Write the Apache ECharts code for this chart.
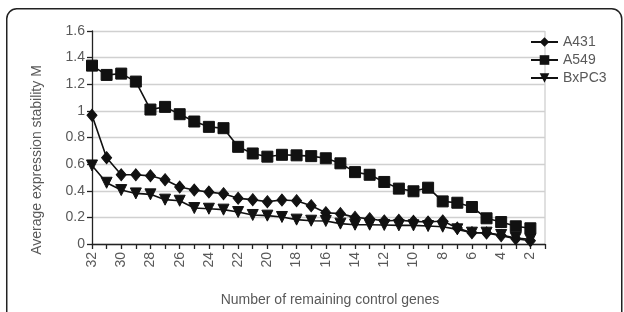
<!DOCTYPE html>
<html>
<head>
<meta charset="utf-8">
<script src="https://cdn.jsdelivr.net/npm/echarts@6/dist/echarts.min.js"></script>
<style>
  html, body { margin: 0; padding: 0; background: #fff; overflow: hidden; }
  #chart { width: 624px; height: 312px; }
</style>
</head>
<body>
<div id="chart"></div>
<script>
// number of remaining control genes (last slot is the empty end tick)
const genes = ['32','31','30','29','28','27','26','25','24','23','22','21','20','19','18','17',
  '16','15','14','13','12','11','10','9','8','7','6','5','4','3','2',''];

const a431 = [0.967, 0.648, 0.52, 0.52, 0.512, 0.483, 0.428, 0.405, 0.39, 0.378, 0.343, 0.333,
  0.318, 0.33, 0.325, 0.288, 0.235, 0.228, 0.2, 0.19, 0.173, 0.178, 0.17, 0.165, 0.173,
  0.12, 0.085, 0.083, 0.063, 0.04, 0.025, '-'];

const a549 = [1.34, 1.27, 1.28, 1.22, 1.01, 1.03, 0.975, 0.92, 0.88, 0.87, 0.73, 0.68,
  0.656, 0.67, 0.666, 0.66, 0.644, 0.606, 0.54, 0.52, 0.466, 0.416, 0.396, 0.423, 0.32,
  0.31, 0.278, 0.193, 0.165, 0.133, 0.118, '-'];

const bxpc3 = [0.59, 0.46, 0.405, 0.38, 0.373, 0.333, 0.325, 0.27, 0.265, 0.258, 0.24, 0.218,
  0.213, 0.203, 0.183, 0.175, 0.173, 0.153, 0.145, 0.145, 0.143, 0.14, 0.14, 0.135, 0.13,
  0.11, 0.085, 0.085, 0.068, 0.045, 0.035, '-'];

const yTicks = { min: 0, max: 1.6, step: 0.2 };

const grey = '#595959';
const font = 'Liberation Sans, Arial, sans-serif';

const lineSeries = (name, data, symbol, size, rotate) => ({
  name,
  type: 'line',
  data,
  symbol,
  symbolSize: size,
  symbolRotate: rotate || 0,
  showAllSymbol: true,
  lineStyle: { color: '#111', width: 1.6 },
  itemStyle: { color: '#111', borderColor: '#111' },
  emphasis: { disabled: true }
});

const chart = echarts.init(document.getElementById('chart'));
chart.setOption({
  animation: false,
  textStyle: { fontFamily: font },
  grid: { left: 92, right: 79, top: 31, bottom: 68 },
  legend: {
    orient: 'vertical',
    left: 530,
    top: 35,
    padding: 0,
    itemWidth: 27,
    itemHeight: 12,
    itemGap: 4,
    textStyle: { color: grey, fontSize: 14, fontFamily: font },
    data: ['A431', 'A549', 'BxPC3']
  },
  xAxis: {
    type: 'category',
    data: genes,
    boundaryGap: false,
    axisLine: { lineStyle: { color: '#222', width: 1.3 } },
    axisTick: { show: true, interval: 0, length: 5, lineStyle: { color: '#222', width: 1.3 } },
    axisLabel: { interval: 1, rotate: 90, color: grey, fontSize: 14, margin: 8 },
    splitLine: { show: false }
  },
  yAxis: {
    type: 'value',
    min: yTicks.min,
    max: yTicks.max,
    interval: yTicks.step,
    axisLine: { show: true, lineStyle: { color: '#222', width: 1.3 } },
    axisTick: { show: true, length: 5, lineStyle: { color: '#222', width: 1.3 } },
    axisLabel: {
      color: grey,
      fontSize: 14,
      margin: 7,
      formatter: v => (Math.round(v * 10) / 10).toString()
    },
    splitLine: { show: true, lineStyle: { color: '#d0d0d0', width: 1.3 } }
  },
  graphic: [
    // outer rounded frame, runs off the bottom of the picture
    { type: 'rect', z: -10, silent: true,
      shape: { x: 6.75, y: 8.75, width: 615, height: 420, r: 10 },
      style: { fill: 'none', stroke: '#222', lineWidth: 1.5 } },
    { type: 'line', shape: { x1: 545, y1: 31, x2: 545, y2: 244 },
      style: { stroke: '#d0d0d0', lineWidth: 1.3 } },
    { type: 'text', x: 37, y: 160, rotation: Math.PI / 2,
      style: { text: 'Average expression stability M', fill: grey, fontSize: 14,
        fontFamily: font, align: 'center', verticalAlign: 'middle' } },
    { type: 'text', x: 330, y: 300,
      style: { text: 'Number of remaining control genes', fill: grey, fontSize: 14,
        fontFamily: font, align: 'center', verticalAlign: 'middle' } }
  ],
  series: [
    lineSeries('A431', a431, 'diamond', [10, 12]),
    lineSeries('A549', a549, 'rect', 11),
    lineSeries('BxPC3', bxpc3, 'triangle', 11, 180)
  ]
});
</script>
</body>
</html>
